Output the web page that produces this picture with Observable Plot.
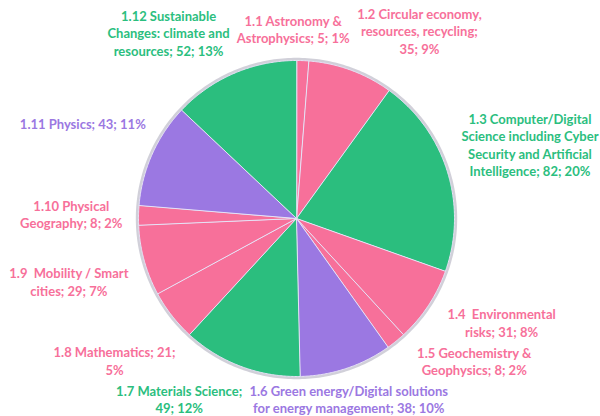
<!DOCTYPE html>
<html>
<head>
<meta charset="utf-8">
<script src="https://cdn.jsdelivr.net/npm/d3@7"></script>
<script src="https://cdn.jsdelivr.net/npm/@observablehq/plot@0.6"></script>
<style>
  html, body { margin: 0; padding: 0; background: #fff; }
  #chart svg { display: block; }
</style>
</head>
<body>
<div id="chart"></div>
<script>
// ---------- data ----------
const categories = [
  "1.1 Astronomy & Astrophysics",
  "1.2 Circular economy, resources, recycling",
  "1.3 Computer/Digital Science including Cyber Security and Artificial Intelligence",
  "1.4  Environmental risks",
  "1.5 Geochemistry & Geophysics",
  "1.6 Green energy/Digital solutions for energy management",
  "1.7 Materials Science",
  "1.8 Mathematics",
  "1.9  Mobility / Smart cities",
  "1.10 Physical Geography",
  "1.11 Physics",
  "1.12 Sustainable Changes: climate and resources"
];
const values = [5, 35, 82, 31, 8, 38, 49, 21, 29, 8, 43, 52];
const groups = ["B", "B", "A", "B", "B", "C", "A", "B", "B", "B", "C", "A"];
const labels = [
  "1.1 Astronomy &\nAstrophysics; 5; 1%",
  "1.2 Circular economy,\nresources, recycling;\n35; 9%",
  "1.3 Computer/Digital\nScience including Cyber\nSecurity and Artificial\nIntelligence; 82; 20%",
  "1.4  Environmental\nrisks; 31; 8%",
  "1.5 Geochemistry &\nGeophysics; 8; 2%",
  "1.6 Green energy/Digital solutions\nfor energy management; 38; 10%",
  "1.7 Materials Science;\n49; 12%",
  "1.8 Mathematics; 21;\n5%",
  "1.9  Mobility / Smart\ncities; 29; 7%",
  "1.10 Physical\nGeography; 8; 2%",
  "1.11 Physics; 43; 11%",
  "1.12 Sustainable\nChanges: climate and\nresources; 52; 13%"
];
const groupNames = ["A", "B", "C"];
const groupColors = ["#2bbe7e", "#f7709a", "#9b78e2"];

// ---------- layout settings ----------
const W = 600, H = 416;
const CX = 296, CY = 218, R = 158;   // pie centre and radius in pixels
const GAP = 14;                       // label clearance from the pie
const FONT_SIZE = 13, LINE_H = 1.35;
const FONT_FAMILY = "Lato, 'Open Sans', sans-serif";

// ---------- slices ----------
const arcs = d3.pie().sort(null).value(d => d)(values);
const slicePts = arcs.flatMap((a, i) => {
  const n = Math.max(2, Math.ceil((a.endAngle - a.startAngle) / (Math.PI / 360)));
  const pts = [{i, g: groups[i], x: 0, y: 0}];
  for (let k = 0; k <= n; k++) {
    const t = a.startAngle + (a.endAngle - a.startAngle) * k / n;
    pts.push({i, g: groups[i], x: Math.sin(t), y: Math.cos(t)});
  }
  return pts;
});
const ringPts = d3.range(0, 361, 1).map(d => {
  const t = d * Math.PI / 180, rr = 1 + 1.2 / R;
  return {x: rr * Math.sin(t), y: rr * Math.cos(t)};
});

// ---------- label layout (midangle + collision relaxation) ----------
const ctx = document.createElement("canvas").getContext("2d");
ctx.font = `bold ${FONT_SIZE}px ${FONT_FAMILY}`;
const L = labels.map((t, i) => {
  const lines = t.split("\n");
  const w = d3.max(lines, l => ctx.measureText(l).width);
  return {
    i, text: t, g: groups[i],
    hw: w / 2 + 2,
    hh: lines.length * FONT_SIZE * LINE_H / 2,
    phi: (arcs[i].startAngle + arcs[i].endAngle) / 2
  };
});
function boxDist(x, y, hw, hh) {
  return Math.hypot(Math.max(Math.abs(x) - hw, 0), Math.max(Math.abs(y) - hh, 0));
}
function place(l) {
  const s = Math.sin(l.phi), c = -Math.cos(l.phi);
  let lo = 0, hi = 600;
  for (let k = 0; k < 40; k++) {
    const m = (lo + hi) / 2;
    if (boxDist(m * s, m * c, l.hw, l.hh) < R + GAP) lo = m; else hi = m;
  }
  let X = CX + hi * s, Y = CY + hi * c;
  X = Math.min(Math.max(X, l.hw), W - l.hw);
  Y = Math.min(Math.max(Y, l.hh), H - l.hh);
  l.X = X; l.Y = Y;
}
const PAD = 3;
for (let it = 0; it < 2000; it++) {
  L.forEach(place);
  let moved = false;
  for (let a = 0; a < L.length; a++) for (let b = a + 1; b < L.length; b++) {
    const p = L[a], q = L[b];
    if (Math.abs(p.X - q.X) < p.hw + q.hw + PAD && Math.abs(p.Y - q.Y) < p.hh + q.hh + PAD) {
      let d = q.phi - p.phi;
      while (d > Math.PI) d -= 2 * Math.PI;
      while (d <= -Math.PI) d += 2 * Math.PI;
      const sg = d >= 0 ? 1 : -1;
      const ap = p.hw * p.hh, aq = q.hw * q.hh, step = 0.003;
      p.phi -= sg * step * aq / (ap + aq);
      q.phi += sg * step * ap / (ap + aq);
      moved = true;
    }
  }
  if (!moved) break;
}
L.forEach(place);
L.forEach(l => { l.x = (l.X - CX) / R; l.y = (CY - l.Y) / R; });

// ---------- chart ----------
const chart = Plot.plot({
  width: W, height: H, margin: 0,
  x: {domain: [-CX / R, (W - CX) / R], axis: null},
  y: {domain: [-(H - CY) / R, CY / R], axis: null},
  color: {type: "ordinal", domain: groupNames, range: groupColors},
  style: {background: "#fff", fontFamily: FONT_FAMILY},
  marks: [
    Plot.line(ringPts, {x: "x", y: "y", stroke: "#c2c0cc", strokeWidth: 3, strokeOpacity: 0.75, curve: "linear-closed"}),
    Plot.line(slicePts, {x: "x", y: "y", z: "i", fill: "g", stroke: "#e6e2f6", strokeWidth: 1, curve: "linear-closed"}),
    Plot.text(L, {
      x: "x", y: "y", text: "text", fill: "g",
      fontSize: FONT_SIZE, fontWeight: "bold", lineHeight: LINE_H,
      textAnchor: "middle", lineAnchor: "middle"
    })
  ]
});
document.getElementById("chart").append(chart);
</script>
</body>
</html>
